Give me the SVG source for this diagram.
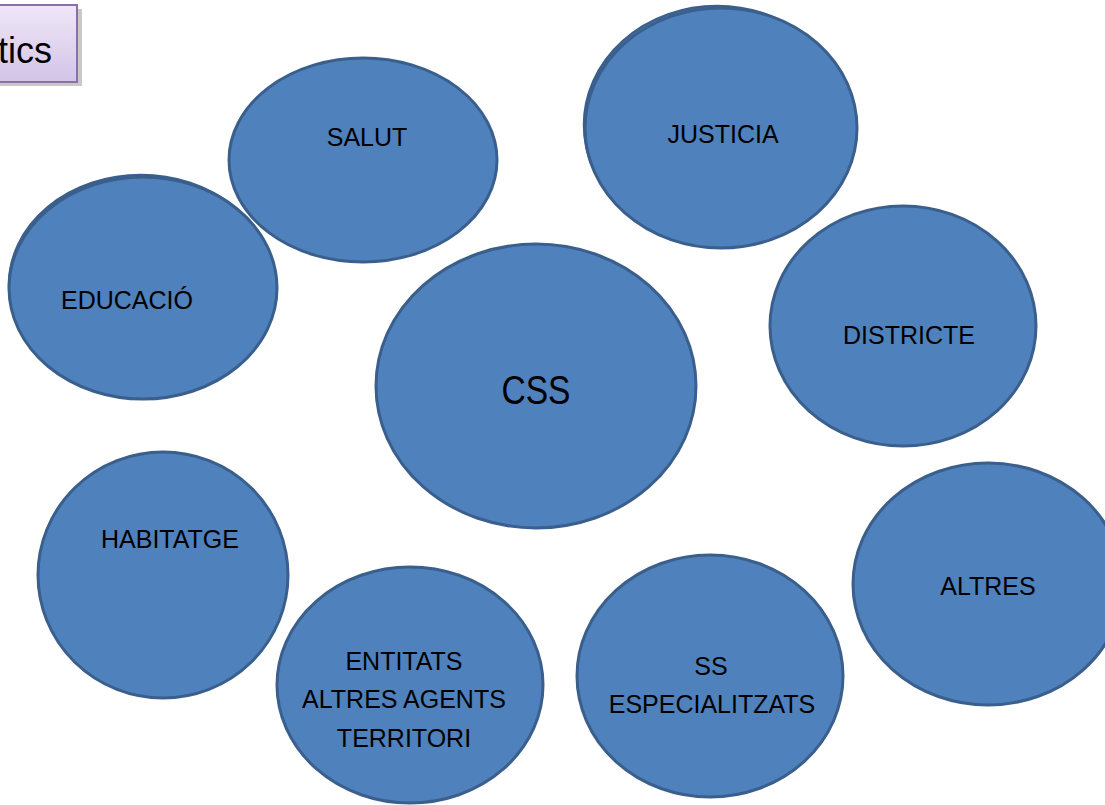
<svg xmlns="http://www.w3.org/2000/svg" width="1105" height="805" viewBox="0 0 1105 805">
<style>
.n{fill:#4f81bd;stroke:#3a5f8c;stroke-width:3}
.n2{fill:#4f81bd;stroke:#3a5f8c;stroke-width:2.5}
.t{font-family:"Liberation Sans",Arial,sans-serif;font-size:25px;fill:#000;text-anchor:middle}
</style>
<defs>
<linearGradient id="tg" x1="0" y1="0" x2="0" y2="1">
<stop offset="0" stop-color="#efe7f7"/>
<stop offset="1" stop-color="#d3c4e7"/>
</linearGradient>
</defs>
<rect width="1105" height="805" fill="#ffffff"/>
<g id="title">
<rect x="-10" y="9" width="92" height="77" fill="#c8c8c8"/>
<rect x="-14" y="5" width="91" height="77" fill="url(#tg)" stroke="#8a70aa" stroke-width="2"/>
<text x="52" y="63" font-family="'Liberation Sans',Arial,sans-serif" font-size="36" text-anchor="end" fill="#000">tics</text>
</g>
<g id="connectors"></g>
<g id="salut">
<ellipse class="n" cx="363" cy="160" rx="134" ry="102"/>
<text class="t" x="367" y="146">SALUT</text>
</g>
<g id="justicia">
<ellipse class="n2" cx="717" cy="125" rx="133" ry="119"/>
<ellipse class="n" cx="721" cy="128" rx="136" ry="120"/>
<text class="t" x="723" y="143">JUSTICIA</text>
</g>
<g id="educacio">
<ellipse class="n2" cx="141" cy="285" rx="132" ry="110"/>
<ellipse class="n" cx="143" cy="288" rx="134" ry="111"/>
<text class="t" x="127" y="309">EDUCACIÓ</text>
</g>
<g id="districte">
<ellipse class="n" cx="903" cy="326" rx="133" ry="120"/>
<text class="t" x="909" y="344">DISTRICTE</text>
</g>
<g id="css">
<ellipse class="n" cx="536" cy="386" rx="160" ry="142"/>
<text x="536" y="404" font-family="'Liberation Sans',Arial,sans-serif" font-size="40" text-anchor="middle" textLength="69" lengthAdjust="spacingAndGlyphs" fill="#000">CSS</text>
</g>
<g id="habitatge">
<ellipse class="n" cx="163" cy="575" rx="125" ry="123"/>
<text class="t" x="170" y="548">HABITATGE</text>
</g>
<g id="entitats">
<ellipse class="n" cx="410" cy="685" rx="133" ry="118"/>
<text class="t" x="404" y="670">ENTITATS</text>
<text class="t" x="404" y="708">ALTRES AGENTS</text>
<text class="t" x="404" y="747">TERRITORI</text>
</g>
<g id="ss-especialitzats">
<ellipse class="n" cx="710" cy="676" rx="133" ry="121"/>
<text class="t" x="711" y="675">SS</text>
<text class="t" x="712" y="713">ESPECIALITZATS</text>
</g>
<g id="altres">
<ellipse class="n" cx="988" cy="584" rx="135" ry="121"/>
<text class="t" x="988" y="595">ALTRES</text>
</g>
</svg>
